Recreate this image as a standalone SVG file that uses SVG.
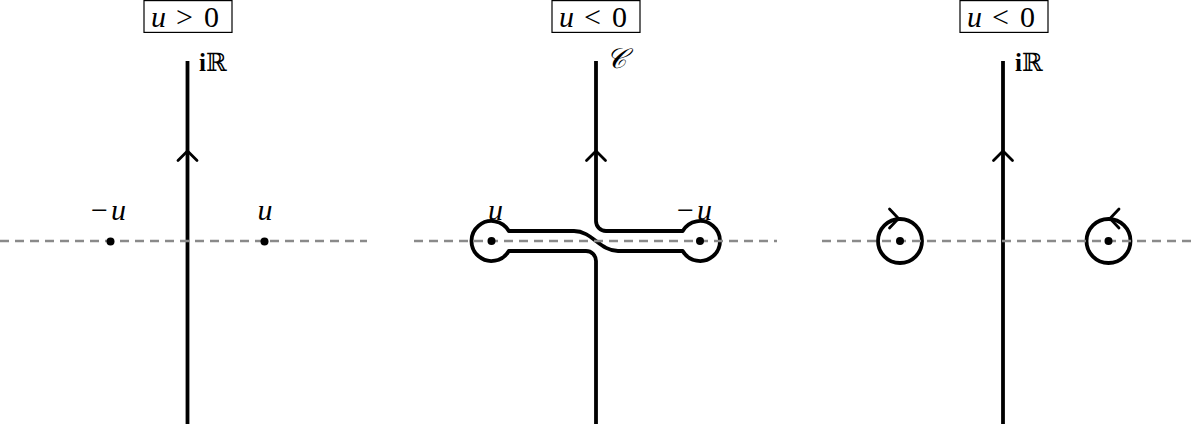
<svg xmlns="http://www.w3.org/2000/svg" width="1192" height="429" viewBox="0 0 1192 429">
<style>
.t{font-family:"Liberation Serif","DejaVu Serif",serif;fill:#000}
.it{font-style:italic}
.box{fill:none;stroke:#000;stroke-width:1.2}
.ln{fill:none;stroke:#000;stroke-width:3.8;stroke-linejoin:round}
.arr{fill:none;stroke:#000;stroke-width:2.8;stroke-linecap:round;stroke-linejoin:miter}
.dash{fill:none;stroke:#8a8a8a;stroke-width:2.6;stroke-dasharray:9 6}
.pt{fill:#000}
</style>
<g id="connectors">
<line class="ln" x1="187.5" y1="61" x2="187.5" y2="424"/>
<line class="ln" x1="1003" y1="61" x2="1003" y2="424"/>
<path class="ln" d="M596 61 V221 A10 10 0 0 0 606 231 H682.7 A20 20 0 1 1 682.7 251 H618 C600 251 592 231 574 231 H508.8 A20 20 0 1 0 508.8 251 H586 A10 10 0 0 1 596 261 V424"/>
<circle class="ln" cx="900" cy="241" r="22"/>
<circle class="ln" cx="1108.5" cy="241" r="22"/>
<line class="dash" x1="0" y1="241" x2="367" y2="241"/>
<line class="dash" x1="414" y1="241" x2="777" y2="241"/>
<line class="dash" x1="822" y1="241" x2="1192" y2="241"/>
<polyline class="arr" points="178,160.5 187.5,151 197,160.5"/>
<polyline class="arr" points="586.5,160.5 596,151 605.5,160.5"/>
<polyline class="arr" points="993.5,160.5 1003,151 1012.5,160.5"/>
<polyline class="arr" points="889.5,209 898.5,218.5 889.5,228"/>
<polyline class="arr" points="1119,209 1110,218.5 1119,228"/>
</g>
<g id="box1">
<rect class="box" x="144" y="0.6" width="88" height="31.8"/>
<text class="t" y="26.7" font-size="30"><tspan class="it" x="151">u</tspan><tspan x="176">&gt;</tspan><tspan x="204">0</tspan></text>
</g>
<g id="box2">
<rect class="box" x="552" y="0.6" width="88" height="31.8"/>
<text class="t" y="26.7" font-size="30"><tspan class="it" x="559">u</tspan><tspan x="584">&lt;</tspan><tspan x="612">0</tspan></text>
</g>
<g id="box3">
<rect class="box" x="960" y="0.6" width="88" height="31.8"/>
<text class="t" y="26.7" font-size="30"><tspan class="it" x="967">u</tspan><tspan x="992">&lt;</tspan><tspan x="1020">0</tspan></text>
</g>
<g id="label-iR-1">
<text class="t" x="199" y="71" font-size="25"><tspan font-weight="bold">i</tspan><tspan font-family="DejaVu Serif">ℝ</tspan></text>
</g>
<g id="label-C">
<text class="t it" x="606" y="68" font-size="28">𝒞</text>
</g>
<g id="label-iR-3">
<text class="t" x="1015" y="71" font-size="25"><tspan font-weight="bold">i</tspan><tspan font-family="DejaVu Serif">ℝ</tspan></text>
</g>
<g id="p1-minus-u">
<circle class="pt" cx="110.5" cy="241.5" r="4"/>
<text class="t" y="220" font-size="30"><tspan x="91">−</tspan><tspan class="it" dx="3">u</tspan></text>
</g>
<g id="p1-u">
<circle class="pt" cx="264.5" cy="241.5" r="4"/>
<text class="t it" x="265" y="220" font-size="30" text-anchor="middle">u</text>
</g>
<g id="p2-u">
<circle class="pt" cx="491.5" cy="241" r="4"/>
<text class="t it" x="495.5" y="220" font-size="30" text-anchor="middle">u</text>
</g>
<g id="p2-minus-u">
<circle class="pt" cx="700" cy="241" r="4"/>
<text class="t" y="220" font-size="30"><tspan x="677">−</tspan><tspan class="it" dx="3">u</tspan></text>
</g>
<g id="p3-left">
<circle class="pt" cx="900" cy="241" r="4"/>
</g>
<g id="p3-right">
<circle class="pt" cx="1108.5" cy="241" r="4"/>
</g>
</svg>
